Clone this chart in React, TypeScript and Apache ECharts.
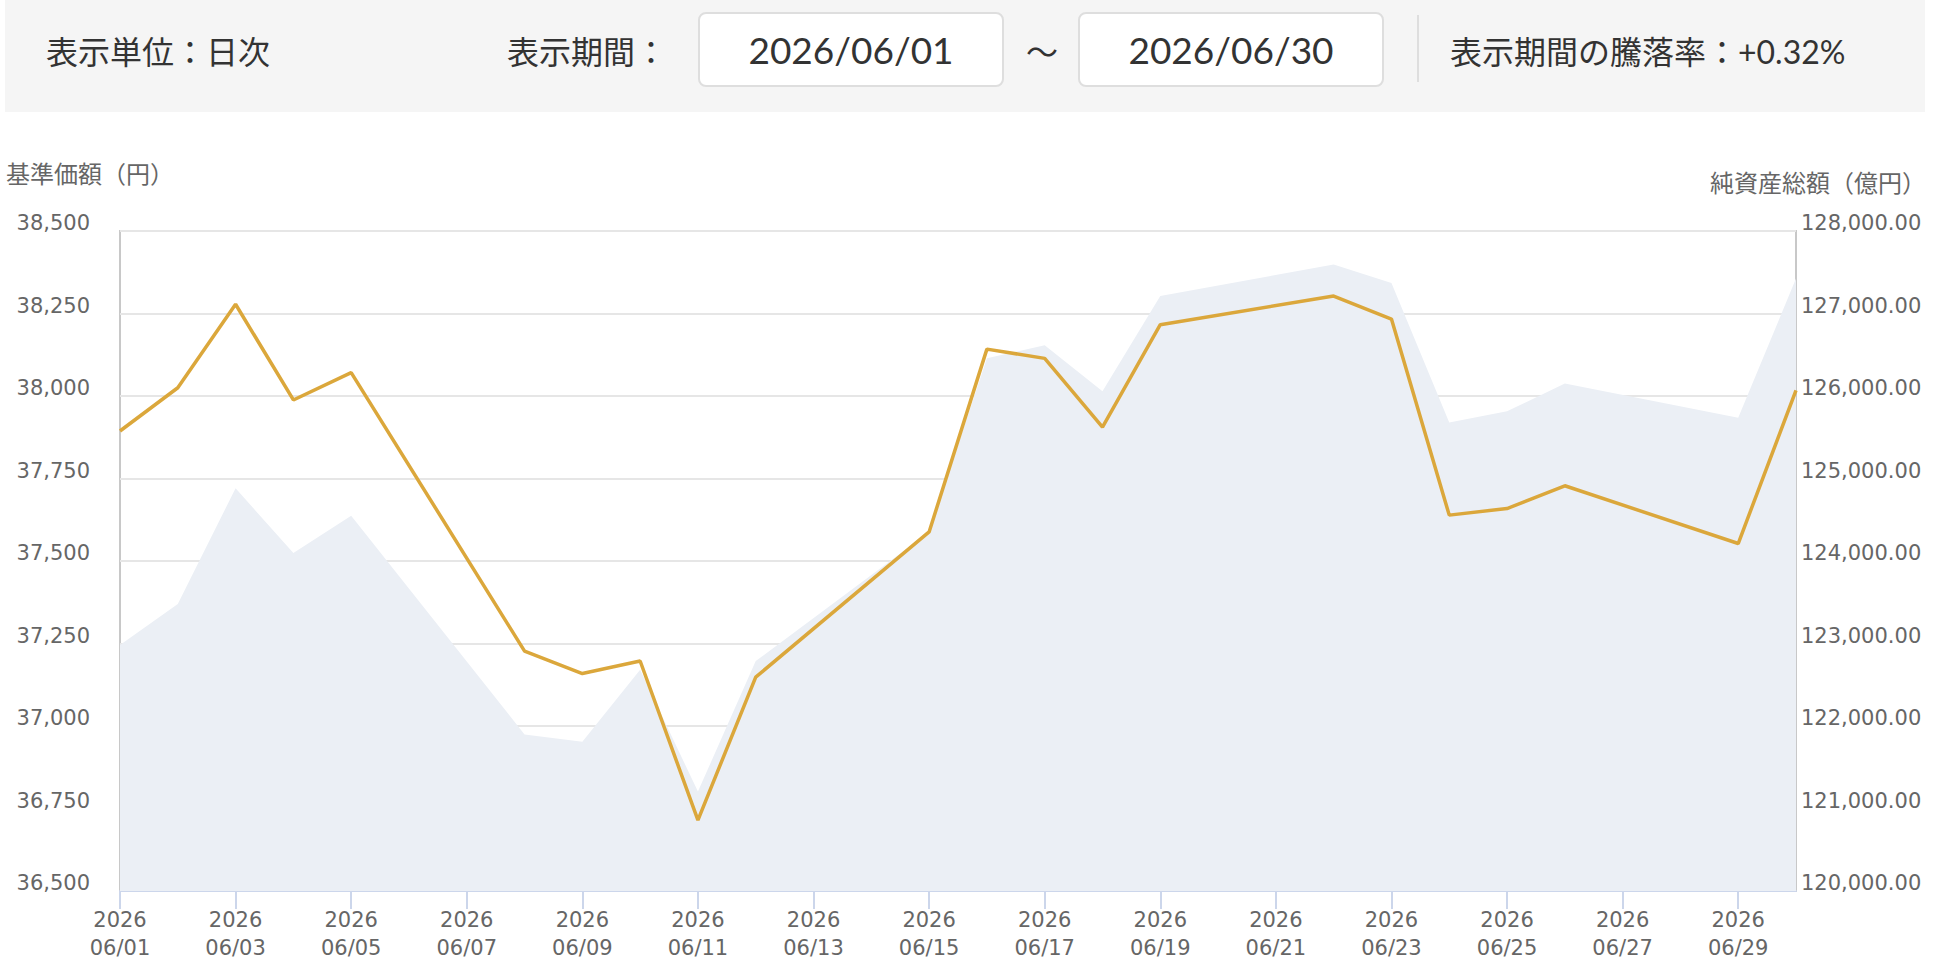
import React, { useEffect, useRef } from 'react';
import * as echarts from 'echarts';

// 2026年6月 日次（週末は null）
const days = [
  '06/01', '06/02', '06/03', '06/04', '06/05', '06/06', '06/07', '06/08', '06/09', '06/10',
  '06/11', '06/12', '06/13', '06/14', '06/15', '06/16', '06/17', '06/18', '06/19', '06/20',
  '06/21', '06/22', '06/23', '06/24', '06/25', '06/26', '06/27', '06/28', '06/29', '06/30',
];

// 基準価額（円）
const navValues = [
  37894, 38025, 38278, 37988, 38071, null, null, 37227, 37159, 37197,
  36715, 37148, null, null, 37588, 38142, 38114, 37906, 38216, null,
  null, 38303, 38233, 37639, 37659, 37728, null, null, 37553, 38017,
];

// 純資産総額（億円）
const assetValues = [
  122983, 123480, 124881, 124098, 124550, null, null, 121898, 121808, 122682,
  121205, 122787, null, null, 124353, 126457, 126615, 126058, 127213, null,
  null, 127593, 127370, 125679, 125815, 126151, null, null, 125735, 127423,
];

const periodStart = '2026/06/01';
const periodEnd = '2026/06/30';
const changeRate = '+0.32%';

const CJK = '"Noto Sans CJK JP", "Noto Sans", sans-serif';
const LATIN = 'Lato, "Noto Sans CJK JP", sans-serif';
const AXIS_FONT = '"DejaVu Sans", sans-serif';

const PriceChart: React.FC = () => {
  const chartRef = useRef<HTMLDivElement>(null);

  useEffect(() => {
    const myChart = echarts.init(chartRef.current!, undefined, { renderer: 'svg' });

    const option = {
      animation: false,
      textStyle: { fontFamily: AXIS_FONT },
      grid: {
        left: 120,
        right: 146,
        top: 231,
        bottom: 77,
        show: true,
        borderColor: '#c8c8c8',
        borderWidth: 2,
      },
      graphic: [
        {
          type: 'text',
          left: 6,
          top: 160,
          style: { text: '基準価額（円）', font: `24px ${CJK}`, fill: '#666' },
        },
        {
          type: 'text',
          right: 16,
          top: 169,
          style: { text: '純資産総額（億円）', font: `24px ${CJK}`, fill: '#666' },
        },
      ],
      xAxis: {
        type: 'category',
        boundaryGap: false,
        data: days,
        axisLine: { lineStyle: { color: '#ccd6eb', width: 2 } },
        axisTick: { show: true, interval: 1, length: 18, lineStyle: { color: '#ccd6eb', width: 2 } },
        axisLabel: {
          interval: 1,
          margin: 15,
          fontFamily: AXIS_FONT,
          fontSize: 21,
          lineHeight: 28,
          color: '#666',
          formatter: (v: string) => `2026\n${v}`,
        },
        splitLine: { show: false },
      },
      yAxis: [
        {
          type: 'value',
          min: 36500,
          max: 38500,
          interval: 250,
          axisLine: { show: false },
          axisTick: { show: false },
          axisLabel: {
            margin: 30,
            fontFamily: AXIS_FONT,
            fontSize: 21,
            color: '#666',
            verticalAlign: 'bottom',
            lineHeight: 16,
            formatter: (v: number) => v.toLocaleString('en-US'),
          },
          splitLine: { lineStyle: { color: '#e6e6e6', width: 2 } },
        },
        {
          type: 'value',
          min: 120000,
          max: 128000,
          interval: 1000,
          axisLine: { show: false },
          axisTick: { show: false },
          axisLabel: {
            margin: 5,
            fontFamily: AXIS_FONT,
            fontSize: 21,
            color: '#666',
            verticalAlign: 'bottom',
            lineHeight: 16,
            formatter: (v: number) =>
              v.toLocaleString('en-US', { minimumFractionDigits: 2, maximumFractionDigits: 2 }),
          },
          splitLine: { show: false },
        },
      ],
      series: [
        {
          name: '純資産総額',
          type: 'line',
          yAxisIndex: 1,
          data: assetValues,
          connectNulls: true,
          symbol: 'none',
          lineStyle: { width: 0 },
          areaStyle: { color: '#ebeff5', opacity: 1 },
          z: 1,
        },
        {
          name: '基準価額',
          type: 'line',
          yAxisIndex: 0,
          data: navValues,
          connectNulls: true,
          symbol: 'none',
          lineStyle: { color: '#dba73b', width: 3.5 },
          z: 3,
        },
      ],
    };

    myChart.setOption(option);

    return () => {
      myChart.dispose();
    };
  }, []);

  return (
    <div
      ref={chartRef}
      style={{ position: 'absolute', left: 0, top: 0, width: '1942px', height: '968px' }}
    />
  );
};

const dateBox = (left: number, text: string) => (
  <div
    style={{
      position: 'absolute',
      left,
      top: 12,
      width: 306,
      height: 75,
      boxSizing: 'border-box',
      background: '#fff',
      border: '2px solid #dedede',
      borderRadius: 8,
      display: 'flex',
      alignItems: 'center',
      justifyContent: 'center',
      fontFamily: LATIN,
      fontSize: 37,
      color: '#333',
    }}
  >
    {text}
  </div>
);

const label = (left: number, text: string, font = CJK) => (
  <div
    style={{
      position: 'absolute',
      left,
      top: 0,
      height: 100,
      display: 'flex',
      alignItems: 'center',
      fontFamily: font,
      fontSize: 32,
      color: '#333',
      whiteSpace: 'nowrap',
    }}
  >
    {text}
  </div>
);

export default function App() {
  return (
    <div
      style={{
        position: 'fixed',
        left: 0,
        top: 0,
        width: '1942px',
        height: '968px',
        background: '#fff',
        overflow: 'hidden',
      }}
    >
      <PriceChart />
      <div
        style={{
          position: 'absolute',
          left: 5,
          top: 0,
          width: 1920,
          height: 112,
          background: '#f5f5f5',
        }}
      >
        {label(41, '表示単位：日次')}
        {label(502, '表示期間：')}
        {dateBox(693, periodStart)}
        {label(1021, '〜')}
        {dateBox(1073, periodEnd)}
        <div
          style={{ position: 'absolute', left: 1412, top: 15, width: 2, height: 67, background: '#dedede' }}
        />
        {label(1445, `表示期間の騰落率：${changeRate}`, LATIN)}
      </div>
    </div>
  );
}
